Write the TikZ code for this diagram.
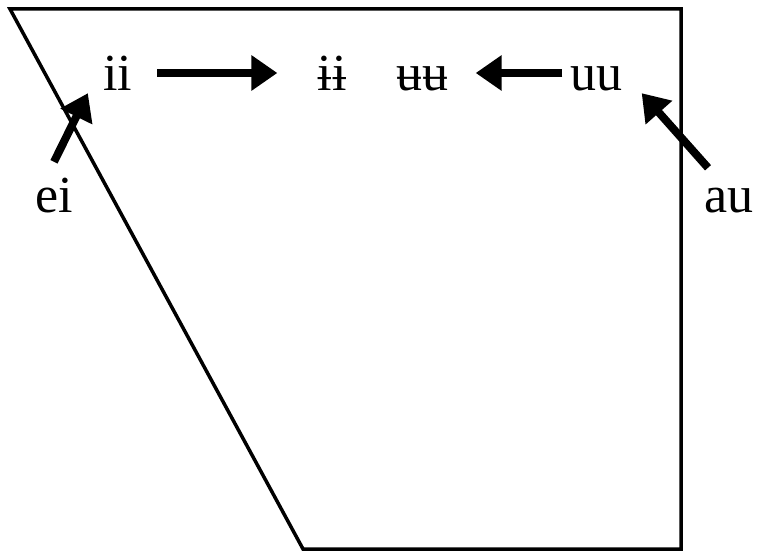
\documentclass[tikz,border=0pt]{standalone}
\usepackage{fontspec}
\setmainfont{Liberation Serif}
\usepackage{tikz}
\usetikzlibrary{arrows.meta}

\begin{document}
\begin{tikzpicture}[x=1pt,y=1pt,
  vowel/.style={inner sep=0pt,anchor=base,font=\fontsize{52pt}{60pt}\selectfont,text height=36pt,text depth=0pt},
  shift arrow/.style={line width=8pt,-{Triangle[length=26pt,width=34pt]}}]
\useasboundingbox (0,0) rectangle (758,552);
\draw[line width=3.5pt,line join=miter] (10,543)--(681,543)--(681,3)--(303,3)--cycle;
\node[vowel] (ii) at (117.5,461) {ii};
\node[vowel] (ibar) at (332,461) {ɨɨ};
\node[vowel] (ubar) at (422.5,461) {ʉʉ};
\node[vowel] (uu) at (596.5,461) {uu};
\node[vowel] (ei) at (54,339) {ei};
\node[vowel] (au) at (729,339) {au};
\draw[shift arrow,shorten <=25pt,shorten >=40pt] (ii.east)--(ibar.west);
\draw[shift arrow,shorten <=8pt,shorten >=27pt] (uu.west)--(ubar.east);
\draw[shift arrow] ([yshift=15pt]ei.north)--([xshift=-15pt,yshift=-2pt]ii.south west);
\draw[shift arrow] ([xshift=-21pt,yshift=9pt]au.north)--([xshift=19pt,yshift=-2pt]uu.south east);
\end{tikzpicture}
\end{document}
